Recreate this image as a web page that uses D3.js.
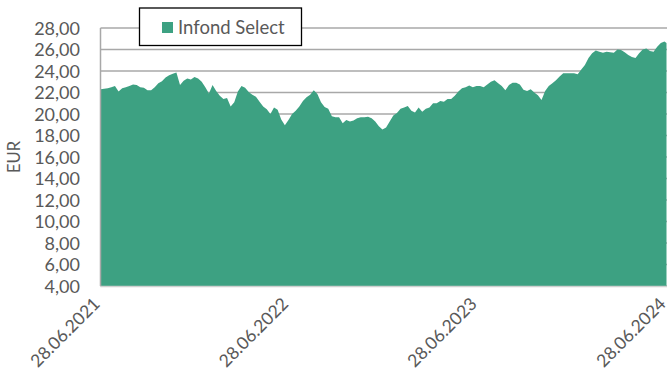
<!DOCTYPE html>
<html>
<head>
<meta charset="utf-8">
<script src="https://cdn.jsdelivr.net/npm/d3@7"></script>
<style>
  html, body { margin: 0; padding: 0; background: #fff; }
  svg { display: block; font-family: Lato, "Liberation Sans", Arial, sans-serif; }
</style>
</head>
<body>
<svg id="chart" width="670" height="378"></svg>
<script>
// Fund unit price (EUR), weekly closes starting 28.06.2021
const seriesName = "Infond Select";
const startDate = "2021-06-28";
const endDate = "2024-06-28";
const weeklyValues = [
  22.3, 22.35, 22.4, 22.5, 22.6, 22.1, 22.4, 22.5, 22.6, 22.75,
  22.7, 22.5, 22.45, 22.2, 22.2, 22.5, 22.85, 23.05, 23.4, 23.6,
  23.75, 23.85, 22.7, 23.1, 23.3, 23.2, 23.45, 23.3, 23.0, 22.5,
  21.9, 22.7, 22.15, 21.7, 21.4, 21.5, 20.7, 21.1, 22.1, 22.6,
  22.45, 22.05, 21.8, 21.6, 21.15, 20.7, 20.45, 20.0, 20.6, 20.4,
  19.5, 18.95, 19.45, 20.0, 20.3, 20.7, 21.2, 21.55, 21.8, 22.2,
  21.85, 21.1, 20.65, 20.5, 19.8, 19.7, 19.7, 19.15, 19.45, 19.3,
  19.4, 19.6, 19.7, 19.7, 19.75, 19.6, 19.3, 18.85, 18.55, 18.75,
  19.3, 19.85, 20.1, 20.5, 20.6, 20.75, 20.3, 20.15, 20.6, 20.2,
  20.5, 20.6, 21.0, 21.0, 21.2, 21.15, 21.4, 21.4, 21.7, 22.1,
  22.4, 22.5, 22.65, 22.5, 22.6, 22.6, 22.5, 22.75, 23.0, 23.15,
  22.85, 22.6, 22.2, 22.7, 22.9, 22.9, 22.75, 22.25, 22.15, 22.3,
  22.0, 21.75, 21.3, 22.15, 22.6, 22.85, 23.15, 23.5, 23.8, 23.8,
  23.8, 23.8, 23.7, 24.15, 24.55, 25.2, 25.65, 25.9, 25.8, 25.7,
  25.8, 25.75, 25.7, 26.0, 25.95, 25.75, 25.5, 25.3, 25.2, 25.65,
  26.0, 26.1, 25.85, 25.8, 26.25, 26.6, 26.75
];
const finalValue = 26.6;
const yTicks = [4, 6, 8, 10, 12, 14, 16, 18, 20, 22, 24, 26, 28];
const xTickDates = ["2021-06-28", "2022-06-28", "2023-06-28", "2024-06-28"];

const parse = d3.utcParse("%Y-%m-%d");
const t0 = parse(startDate), t1 = parse(endDate);
const data = weeklyValues.map((v, i) => ({ date: d3.utcDay.offset(t0, 7 * i), value: v }));
data.push({ date: t1, value: finalValue });

const svg = d3.select("#chart");
const plot = { left: 100.5, right: 666.5, top: 28, bottom: 286 };

const x = d3.scaleUtc().domain([t0, t1]).range([plot.left, plot.right]);
const y = d3.scaleLinear().domain([4, 28]).range([plot.bottom, plot.top]);

const labelColor = "#595959";
const fill = "#3da182";
const fontStack = "Lato, 'Liberation Sans', Arial, sans-serif";
const locale = d3.formatLocale({ decimal: ",", thousands: ".", grouping: [3], currency: ["", " €"] });
const fmtY = locale.format(".2f");
const fmtX = d3.utcFormat("%d.%m.%Y");

// horizontal gridlines
svg.append("g")
  .selectAll("line")
  .data(yTicks)
  .join("line")
  .attr("x1", plot.left).attr("x2", plot.right + 0.5)
  .attr("y1", d => y(d)).attr("y2", d => y(d))
  .attr("stroke", "#a8a8a8").attr("stroke-width", 1.6);

// price area
const area = d3.area()
  .x(d => x(d.date))
  .y0(y(4))
  .y1(d => y(d.value));
svg.append("path").datum(data).attr("d", area).attr("fill", fill);

// axis lines
svg.append("line").attr("x1", plot.left).attr("x2", plot.left).attr("y1", plot.top).attr("y2", plot.bottom)
  .attr("stroke", "#a8a8a8").attr("stroke-width", 1.5);
svg.append("line").attr("x1", plot.left).attr("x2", plot.right + 0.5)
  .attr("y1", plot.bottom + 0.5).attr("y2", plot.bottom + 0.5)
  .attr("stroke", "#d0d0d0").attr("stroke-width", 1.5);

// y axis labels
const yAxis = d3.axisLeft(y).tickValues(yTicks).tickFormat(fmtY).tickSize(0).tickPadding(0);
const gy = svg.append("g").attr("transform", "translate(80,0)").call(yAxis);
gy.select(".domain").remove();
gy.selectAll("text").attr("fill", labelColor).attr("font-size", 18)
  .attr("font-family", fontStack).attr("dy", "0.36em");

// x axis labels, rotated
const xAxis = d3.axisBottom(x).tickValues(xTickDates.map(parse)).tickFormat(fmtX).tickSize(0).tickPadding(0);
const gx = svg.append("g").attr("transform", `translate(0,${plot.bottom})`).call(xAxis);
gx.select(".domain").remove();
gx.selectAll("text")
  .attr("fill", labelColor).attr("font-size", 17.5)
  .attr("font-family", fontStack)
  .attr("text-anchor", "end")
  .attr("dy", null).attr("y", null)
  .attr("transform", "translate(0,19) rotate(-45)");

// y axis title
svg.append("text")
  .attr("transform", "translate(20,157) rotate(-90)")
  .attr("text-anchor", "middle")
  .attr("fill", labelColor).attr("font-size", 16.5)
  .attr("font-family", fontStack)
  .text("EUR");

// legend
const lg = svg.append("g");
lg.append("rect").attr("x", 139.5).attr("y", 8).attr("width", 162).attr("height", 37.5)
  .attr("fill", "#fff").attr("stroke", "#000").attr("stroke-width", 1.3);
lg.append("rect").attr("x", 162).attr("y", 22).attr("width", 11).attr("height", 11).attr("fill", fill);
lg.append("text").attr("x", 178).attr("y", 33.5).attr("fill", labelColor).attr("font-size", 18.5)
  .attr("font-family", fontStack)
  .text(seriesName);
</script>
</body>
</html>
